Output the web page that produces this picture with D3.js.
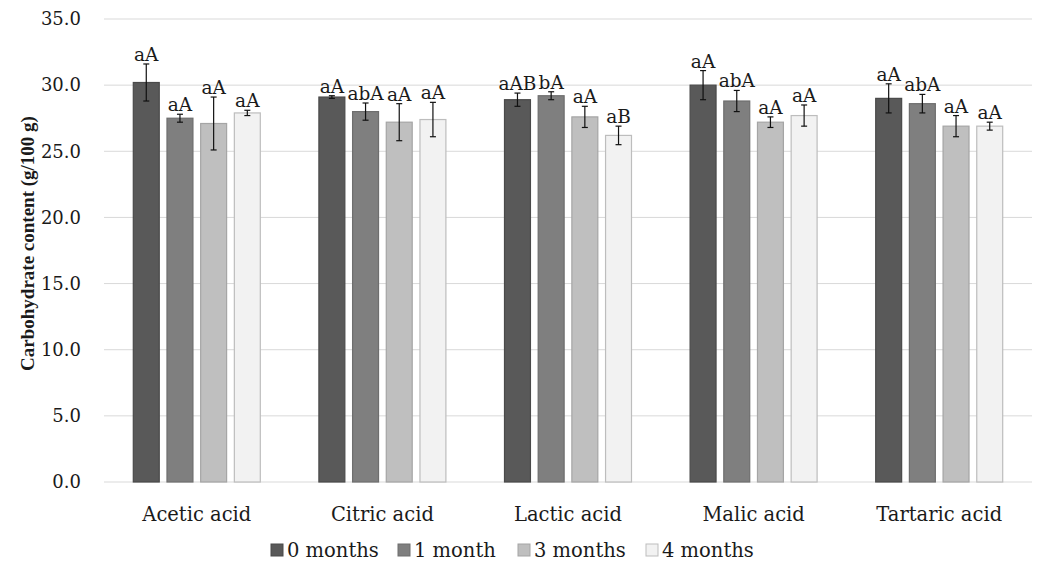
<!DOCTYPE html>
<html>
<head>
<meta charset="utf-8">
<script src="https://cdn.jsdelivr.net/npm/d3@7"></script>
<style>
  body { margin: 0; background: #fff; }
  text { font-family: "DejaVu Serif", serif; fill: #1a1a1a; }
</style>
</head>
<body>
<div id="chart"></div>
<script>
var categories = ["Acetic acid", "Citric acid", "Lactic acid", "Malic acid", "Tartaric acid"];
var seriesNames = ["0 months", "1 month", "3 months", "4 months"];
var colors = ["#595959", "#7f7f7f", "#bfbfbf", "#f2f2f2"];
var strokes = ["#4a4a4a", "#6e6e6e", "#a5a5a5", "#bdbdbd"];

// mean values per series (rows) for each acid (columns)
var values = [
  [30.2, 29.1, 28.9, 30.0, 29.0],
  [27.5, 28.0, 29.2, 28.8, 28.6],
  [27.1, 27.2, 27.6, 27.2, 26.9],
  [27.9, 27.4, 26.2, 27.7, 26.9]
];
var errors = [
  [1.4, 0.1, 0.5, 1.1, 1.1],
  [0.3, 0.65, 0.3, 0.8, 0.7],
  [2.0, 1.4, 0.8, 0.4, 0.8],
  [0.2, 1.3, 0.7, 0.8, 0.3]
];
var letters = [
  ["aA", "aA", "aAB", "aA", "aA"],
  ["aA", "abA", "bA", "abA", "abA"],
  ["aA", "aA", "aA", "aA", "aA"],
  ["aA", "aA", "aB", "aA", "aA"]
];
var yTicks = [0, 5, 10, 15, 20, 25, 30, 35];

var width = 1037, height = 562;
var margin = { top: 19, right: 5, bottom: 80, left: 104 };
var graphWidth = width - margin.left - margin.right,
  graphHeight = height - margin.top - margin.bottom;

var svg = d3.select("#chart").append("svg").attr("width", width).attr("height", height);
var graph = svg.append("g")
  .attr("transform", "translate(" + margin.left + "," + margin.top + ")");

var x0 = d3.scaleBand().domain(categories).range([0, graphWidth]).padding(0);
var x1 = d3.scaleBand().domain(seriesNames)
  .range([(x0.bandwidth() - 128) / 2, (x0.bandwidth() + 128) / 2])
  .paddingInner(0.2).paddingOuter(0);
var y = d3.scaleLinear().domain([0, 35]).range([graphHeight, 0]);

// gridlines
graph.append("g").selectAll("line").data(yTicks).enter().append("line")
  .attr("x1", 0).attr("x2", graphWidth)
  .attr("y1", function (d) { return y(d); })
  .attr("y2", function (d) { return y(d); })
  .attr("stroke", "#d9d9d9").attr("stroke-width", 1);

// y axis labels
var yAxis = d3.axisLeft(y).tickValues(yTicks).tickFormat(d3.format(".1f")).tickSize(0).tickPadding(23);
var gY = graph.append("g").call(yAxis);
gY.select(".domain").remove();
gY.selectAll("text").style("font-size", "18px").style("font-family", "DejaVu Serif").attr("fill", "#1a1a1a");

// x axis labels
var xAxis = d3.axisBottom(x0).tickSize(0).tickPadding(25);
var gX = graph.append("g").attr("transform", "translate(0," + graphHeight + ")").call(xAxis);
gX.select(".domain").remove();
gX.selectAll("text").style("font-size", "19.5px").style("font-family", "DejaVu Serif").attr("fill", "#1a1a1a");

var rows = [];
seriesNames.forEach(function (s, si) {
  categories.forEach(function (c, ci) {
    rows.push({ s: s, si: si, c: c, v: values[si][ci], e: errors[si][ci], l: letters[si][ci] });
  });
});

var bars = graph.append("g").selectAll("g").data(rows).enter().append("g")
  .attr("transform", function (d) { return "translate(" + (x0(d.c) + x1(d.s)) + ",0)"; });

bars.append("rect")
  .attr("x", 0.5)
  .attr("width", x1.bandwidth() - 1)
  .attr("y", function (d) { return y(d.v); })
  .attr("height", function (d) { return graphHeight - y(d.v); })
  .attr("fill", function (d) { return colors[d.si]; })
  .attr("stroke", function (d) { return strokes[d.si]; })
  .attr("stroke-width", 1.2);

var cx = x1.bandwidth() / 2;
bars.append("line")
  .attr("x1", cx).attr("x2", cx)
  .attr("y1", function (d) { return y(d.v + d.e); })
  .attr("y2", function (d) { return y(d.v - d.e); })
  .attr("stroke", "#111").attr("stroke-width", 1.2);
[1, -1].forEach(function (sign) {
  bars.append("line")
    .attr("x1", cx - 3).attr("x2", cx + 3)
    .attr("y1", function (d) { return y(d.v + sign * d.e); })
    .attr("y2", function (d) { return y(d.v + sign * d.e); })
    .attr("stroke", "#111").attr("stroke-width", 1.2);
});

bars.append("text")
  .attr("x", cx)
  .attr("y", function (d) { return y(d.v + d.e) - 3; })
  .attr("text-anchor", "middle")
  .style("font-size", "18.5px")
  .text(function (d) { return d.l; });

// y axis title
svg.append("text")
  .attr("transform", "translate(34," + (margin.top + graphHeight / 2 - 7) + ") rotate(-90)")
  .attr("text-anchor", "middle")
  .style("font-family", "Liberation Serif")
  .style("font-size", "19px")
  .style("font-weight", "bold")
  .text("Carbohydrate content (g/100 g)");

// legend
var legendX = [271, 398, 518, 646];
var legend = svg.append("g").selectAll("g").data(seriesNames).enter().append("g")
  .attr("transform", function (d, i) { return "translate(" + legendX[i] + ",544)"; });
legend.append("rect")
  .attr("width", 12).attr("height", 12)
  .attr("fill", function (d, i) { return colors[i]; })
  .attr("stroke", function (d, i) { return strokes[i]; });
legend.append("text")
  .attr("x", 16).attr("y", 13)
  .style("font-size", "19.5px")
  .text(function (d) { return d; });
</script>
</body>
</html>
